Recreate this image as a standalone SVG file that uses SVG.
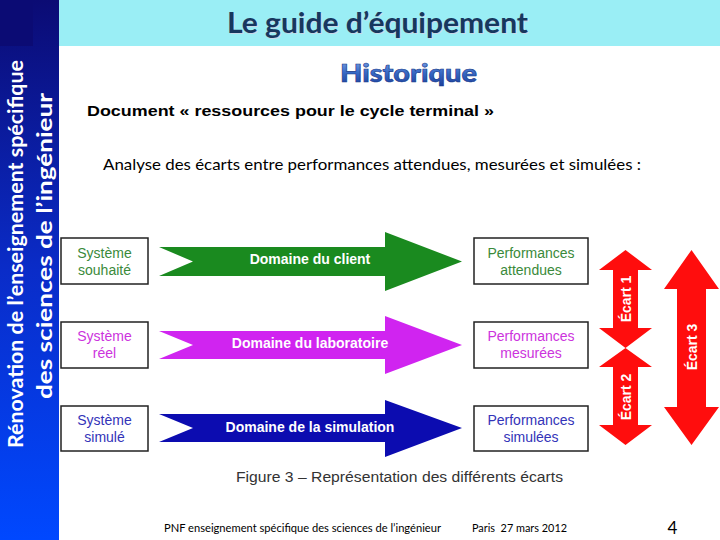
<svg xmlns="http://www.w3.org/2000/svg" width="720" height="540" viewBox="0 0 720 540">
<defs>
<linearGradient id="bar" x1="0" y1="0" x2="0" y2="1">
<stop offset="0" stop-color="#0b0b74"/>
<stop offset="0.5" stop-color="#0a2cc8"/>
<stop offset="1" stop-color="#0048ff"/>
</linearGradient>
<linearGradient id="hist" x1="0" y1="0" x2="0" y2="1">
<stop offset="0" stop-color="#8ab0ee"/>
<stop offset="0.5" stop-color="#3a6cc8"/>
<stop offset="1" stop-color="#1a3c98"/>
</linearGradient>
<style>
.box{fill:#fff;stroke:#222;stroke-width:1.5}
.bt{font-family:"Liberation Sans",Arial,sans-serif;font-size:14px;text-anchor:middle}
.green{fill:#3a8a3a}
.mag{fill:#cc33dd}
.blue{fill:#3333b8}
.dom{font-family:"Liberation Sans",Arial,sans-serif;font-size:14px;font-weight:bold;fill:#fff;text-anchor:middle}
.ecart{fill:#ff0d0d}
.et{font-family:"Liberation Sans",Arial,sans-serif;font-size:14px;font-weight:bold;fill:#fff;text-anchor:middle}
.side{font-family:Lato,"Open Sans",sans-serif;font-weight:bold;fill:#fff;text-anchor:middle}
.cal{font-family:Lato,"Open Sans",sans-serif}
</style>
</defs>
<rect width="720" height="540" fill="#fff"/>
<g id="frame">
<rect x="33" y="0" width="687" height="46" fill="#9aeef5"/>
<rect x="0" y="0" width="59" height="540" fill="url(#bar)"/>
<rect x="0" y="0" width="33" height="46" fill="#0b0b74"/>
<text class="side" font-size="20" transform="translate(23,254) rotate(-90)" textLength="388" lengthAdjust="spacingAndGlyphs">Rénovation de l’enseignement spécifique</text>
<text class="side" font-size="20" transform="translate(52,246) rotate(-90)" textLength="306" lengthAdjust="spacingAndGlyphs">des sciences de l’ingénieur</text>
</g>
<g id="titles">
<text x="377.5" y="33" class="cal" font-size="28" font-weight="bold" fill="#c8d8e8" text-anchor="middle" textLength="301" lengthAdjust="spacingAndGlyphs" transform="translate(1,1)">Le guide d’équipement</text>
<text x="377.5" y="33" class="cal" font-size="28" font-weight="bold" fill="#17375e" text-anchor="middle" textLength="301" lengthAdjust="spacingAndGlyphs">Le guide d’équipement</text>
<text x="408.5" y="82" class="cal" font-size="25" font-weight="900" fill="url(#hist)" stroke="#1a3a8a" stroke-width="0.6" text-anchor="middle" textLength="137" lengthAdjust="spacingAndGlyphs">Historique</text>
<text x="87" y="116" font-family="'Liberation Sans',Arial,sans-serif" font-size="15" font-weight="bold" fill="#000" textLength="407" lengthAdjust="spacingAndGlyphs">Document « ressources pour le cycle terminal »</text>
<text x="103" y="170" class="cal" font-size="15" fill="#000" textLength="538" lengthAdjust="spacingAndGlyphs">Analyse des écarts entre performances attendues, mesurées et simulées :</text>
</g>
<g id="sys-souhaite">
<rect class="box" x="61" y="238" width="87" height="46"/>
<text class="bt green" x="104.5" y="258">Système</text>
<text class="bt green" x="104.5" y="275">souhaité</text>
</g>
<g id="sys-reel">
<rect class="box" x="61" y="322" width="87" height="46"/>
<text class="bt mag" x="104.5" y="341">Système</text>
<text class="bt mag" x="104.5" y="358">réel</text>
</g>
<g id="sys-simule">
<rect class="box" x="61" y="406" width="87" height="45"/>
<text class="bt blue" x="104.5" y="425">Système</text>
<text class="bt blue" x="104.5" y="442">simulé</text>
</g>
<g id="perf-attendues">
<rect class="box" x="474" y="238" width="114" height="46"/>
<text class="bt green" x="531" y="258">Performances</text>
<text class="bt green" x="531" y="275">attendues</text>
</g>
<g id="perf-mesurees">
<rect class="box" x="474" y="322" width="114" height="46"/>
<text class="bt mag" x="531" y="341">Performances</text>
<text class="bt mag" x="531" y="358">mesurées</text>
</g>
<g id="perf-simulees">
<rect class="box" x="474" y="406" width="114" height="45"/>
<text class="bt blue" x="531" y="425">Performances</text>
<text class="bt blue" x="531" y="442">simulées</text>
</g>
<g id="connectors">
<g id="dom-client">
<polygon fill="#1a8a1f" points="159,247 385,247 385,232 462,261.5 385,291 385,276 159,276 193,261.5"/>
<text class="dom" x="310" y="264">Domaine du client</text>
</g>
<g id="dom-labo">
<polygon fill="#d024f0" points="159,331 385,331 385,316 462,345 385,374 385,359 159,359 193,345"/>
<text class="dom" x="310" y="348">Domaine du laboratoire</text>
</g>
<g id="dom-simu">
<polygon fill="#0c0cb0" points="159,414 385,414 385,400 462,428 385,457 385,442 159,442 193,428"/>
<text class="dom" x="310" y="432">Domaine de la simulation</text>
</g>
<g id="ecart1">
<polygon class="ecart" points="625.5,250 652,270 638,270 638,328 652,328 625.5,348 599,328 613,328 613,270 599,270"/>
<text class="et" transform="translate(631,299) rotate(-90)">Écart 1</text>
</g>
<g id="ecart2">
<polygon class="ecart" points="625.5,348 652,367 638,367 638,425 652,425 625.5,445 599,425 613,425 613,367 599,367"/>
<text class="et" transform="translate(631,397) rotate(-90)">Écart 2</text>
</g>
<g id="ecart3">
<polygon class="ecart" points="691.5,250 719,289 706,289 706,407 719,407 691.5,445 664,407 677,407 677,289 664,289"/>
<text class="et" transform="translate(697,347) rotate(-90)">Écart 3</text>
</g>
</g>
<g id="caption">
<text x="236" y="482" font-family="'Liberation Sans',Arial,sans-serif" font-size="14" fill="#333" textLength="327" lengthAdjust="spacingAndGlyphs">Figure 3 – Représentation des différents écarts</text>
</g>
<g id="footer">
<text x="164" y="532" class="cal" font-size="11.5" fill="#000" textLength="277" lengthAdjust="spacingAndGlyphs">PNF enseignement spécifique des sciences de l’ingénieur</text>
<text x="472" y="532" class="cal" font-size="11.5" fill="#000" textLength="95" lengthAdjust="spacingAndGlyphs" xml:space="preserve">Paris  27 mars 2012</text>
<text x="672.5" y="534" class="cal" font-size="17" fill="#000" text-anchor="middle">4</text>
</g>
</svg>
